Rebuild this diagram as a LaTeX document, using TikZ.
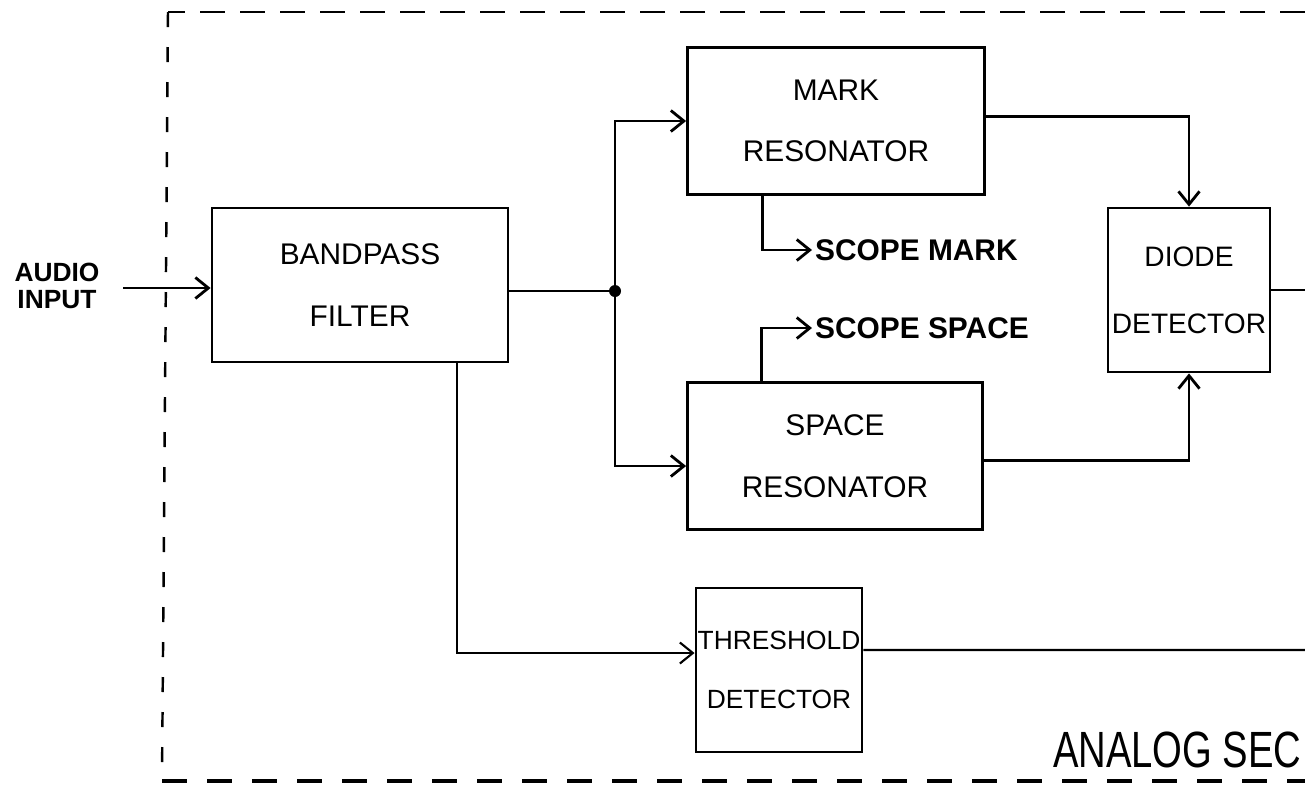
\documentclass[tikz,border=0pt]{standalone}
\usepackage{fontspec}
\setmainfont{Liberation Sans}
\newfontfamily\narrowfont[FakeStretch=0.75]{Liberation Sans}
\usetikzlibrary{arrows.meta, positioning}

\tikzset{
  block/.style={draw, line width=1.6pt, align=center, inner sep=1pt,
    font=\fontsize{17}{35}\selectfont},
  tap text/.style={font=\bfseries\fontsize{17}{20}\selectfont, inner sep=1pt},
}

\begin{document}
\begin{tikzpicture}[x=0.2mm, y=-0.2mm, line width=1.6pt,
    >={Straight Barb[length=2.6mm, width=4.2mm]}]
    \useasboundingbox (0,0) rectangle (1305,784);

    % dashed frame of the section
    \draw[line width=1.6pt, dash pattern=on 5mm off 3mm] (1305,12) -- (168,12);
    \draw[line width=1.4pt, dash pattern=on 3mm off 4mm] (168,12) -- (162,781);
    \draw[line width=2pt, dash pattern=on 5mm off 4mm] (162,781) -- (1305,781);

    \node (bpf) [block, minimum width=59.2mm, minimum height=30.8mm] at (360,285) {BANDPASS\\FILTER};
    \node (mark) [block, minimum width=59.4mm, minimum height=29.4mm] at (836,121) {MARK\\RESONATOR};
    \node (space) [block, minimum width=59mm, minimum height=29.4mm] at (835,456) {SPACE\\RESONATOR};
    \node (diode) [block, minimum width=32.4mm, minimum height=32.8mm,
        font=\fontsize{16}{38}\selectfont] at (1189,290) {DIODE\\DETECTOR};
    \node (thr) [block, minimum width=33mm, minimum height=32.8mm,
        font=\fontsize{15}{34}\selectfont] at (779,670) {THRESHOLD\\DETECTOR};

    \node (audio) [font=\bfseries\fontsize{15}{15}\selectfont, align=center, inner sep=1pt] at (57,286) {AUDIO\\INPUT};
    \node (scopemark) [tap text, anchor=west] at (812,250) {SCOPE MARK};
    \node (scopespace) [tap text, anchor=west] at (812,328) {SCOPE SPACE};
    \node (sectitle) [anchor=base east, inner sep=0pt,
        font=\narrowfont\fontsize{29}{30}\selectfont] at (1303,767) {ANALOG SEC};

    \coordinate (in) at (123,288);
    \coordinate (jn) at (615,291);
    \coordinate (dout) at (1305,290);
    \coordinate (tout) at (1305,650);

    % signal paths
    \draw[->] (in) -- (in -| bpf.west);
    \draw (bpf.east |- jn) -- (jn);
    \fill (jn) circle (1.2mm);
    \draw[->] (jn) |- (mark.west);
    \draw[->] (jn) |- ([yshift=-2mm]space.west);
    \draw[->] ([yshift=0.9mm]mark.east) -| (diode.north);
    \draw[->] ([yshift=-0.9mm]space.east) -| (diode.south);
    \draw (diode.east) -- (dout);
    \draw[->] ([xshift=-14.7mm]mark.south) |- (scopemark.west);
    \draw[->] ([xshift=-14.7mm]space.north) |- (scopespace.west);
    \draw[->, line width=1.2pt] ([xshift=19.4mm]bpf.south) |- ([yshift=3.4mm]thr.west);
    \draw[line width=1.2pt] ([yshift=4mm]thr.east) -- (tout);
\end{tikzpicture}
\end{document}
